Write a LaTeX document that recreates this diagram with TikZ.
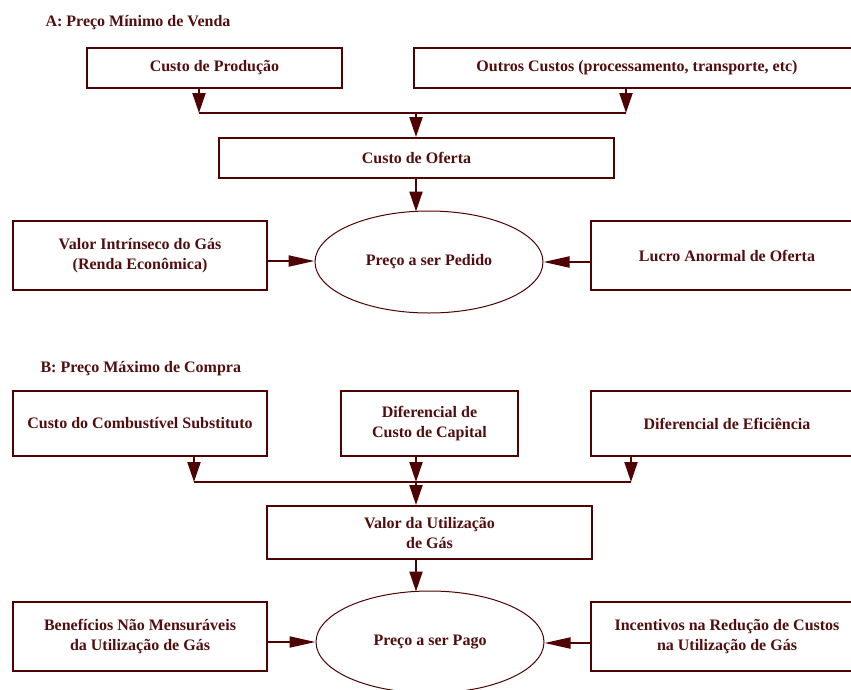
\documentclass[tikz,border=0pt]{standalone}
\usepackage{fontspec}
\setmainfont{Liberation Serif}
\usetikzlibrary{arrows.meta,shapes.geometric}
\definecolor{wine}{RGB}{78,2,2}
\definecolor{winetext}{RGB}{82,14,14}
\tikzset{
  every node/.style={font=\fontsize{16}{20}\selectfont\bfseries, text=winetext, align=center},
  box/.style={draw=wine, line width=2pt, rectangle, inner sep=0pt},
  oval/.style={draw=wine, line width=1pt, ellipse, inner sep=0pt, minimum width=228pt, minimum height=102pt},
  heading/.style={anchor=west},
  link/.style={draw=wine, line width=2pt},
  vflow/.style={link, -{Triangle[length=20pt,width=13pt]}},
  hflow/.style={link, -{Triangle[length=26pt,width=11pt]}}
}
\begin{document}
\begin{tikzpicture}[x=1pt,y=-1pt]
\useasboundingbox (0,0) rectangle (851,689);
\clip (0,0) rectangle (851,689);

% ---------- A: minimum selling price ----------
\node[heading] (titA) at (42,23) {A: Preço Mínimo de Venda};

\node[box, minimum width=255pt, minimum height=40pt] (prod) at (214.5,68) {Custo de Produção};
\node[box, minimum width=446pt, minimum height=40pt] (outros) at (637,68) {Outros Custos (processamento, transporte, etc)};
\node[box, minimum width=395pt, minimum height=40pt] (oferta) at (416.5,158) {Custo de Oferta};
\node[oval] (pedido) at (429,262) {Preço a ser Pedido};
\node[box, minimum width=254pt, minimum height=69pt] (intr) at (140,255.5) {Valor Intrínseco do Gás\\(Renda Econômica)};
\node[box, minimum width=272pt, minimum height=69pt] (lucro) at (727,255.5) {Lucro Anormal de Oferta};

\coordinate (jAl) at (199,113);
\coordinate (jAr) at (626,113);
\coordinate (jA) at (416,113);

\draw[vflow] (prod.south -| jAl) -- (jAl);
\draw[vflow] (outros.south -| jAr) -- (jAr);
\draw[link] (jAl) -- (jAr);
\draw[vflow] (jA) -- (oferta.north -| jA);
\draw[vflow] (oferta.south -| jA) -- ([yshift=-1pt]pedido.north -| jA);
\draw[hflow] (intr.east |- 0,261) -- (pedido.west |- 0,261);
\draw[hflow] (lucro.west |- 0,262) -- (pedido.east |- 0,262);

% ---------- B: maximum purchase price ----------
\node[heading] (titB) at (37,369) {B: Preço Máximo de Compra};

\node[box, minimum width=254pt, minimum height=65pt] (comb) at (140,423.5) {Custo do Combustível Substituto};
\node[box, minimum width=177pt, minimum height=65pt] (difcap) at (429.5,423.5) {Diferencial de\\Custo de Capital};
\node[box, minimum width=272pt, minimum height=65pt] (difef) at (727,423.5) {Diferencial de Eficiência};
\node[box, minimum width=325pt, minimum height=53pt] (valor) at (429.5,532.5) {Valor da Utilização\\de Gás};
\node[oval] (pago) at (430,642) {Preço a ser Pago};
\node[box, minimum width=254pt, minimum height=69pt] (benef) at (140,636.5) {Benefícios Não Mensuráveis\\da Utilização de Gás};
\node[box, minimum width=272pt, minimum height=69pt] (incent) at (727,636.5) {Incentivos na Redução de Custos\\na Utilização de Gás};

\coordinate (jBl) at (194,482);
\coordinate (jBm) at (416,482);
\coordinate (jBr) at (631,482);

\draw[vflow] (comb.south -| jBl) -- (jBl);
\draw[vflow] (difcap.south -| jBm) -- (jBm);
\draw[vflow] (difef.south -| jBr) -- (jBr);
\draw[link] (jBl) -- (jBr);
\draw[vflow] (jBm) -- (valor.north -| jBm);
\draw[vflow] (valor.south -| jBm) -- ([yshift=-1pt]pago.north -| jBm);
\draw[hflow] (benef.east |- 0,642) -- (pago.west |- 0,642);
\draw[hflow] (incent.west |- 0,643) -- (pago.east |- 0,643);
\end{tikzpicture}
\end{document}
